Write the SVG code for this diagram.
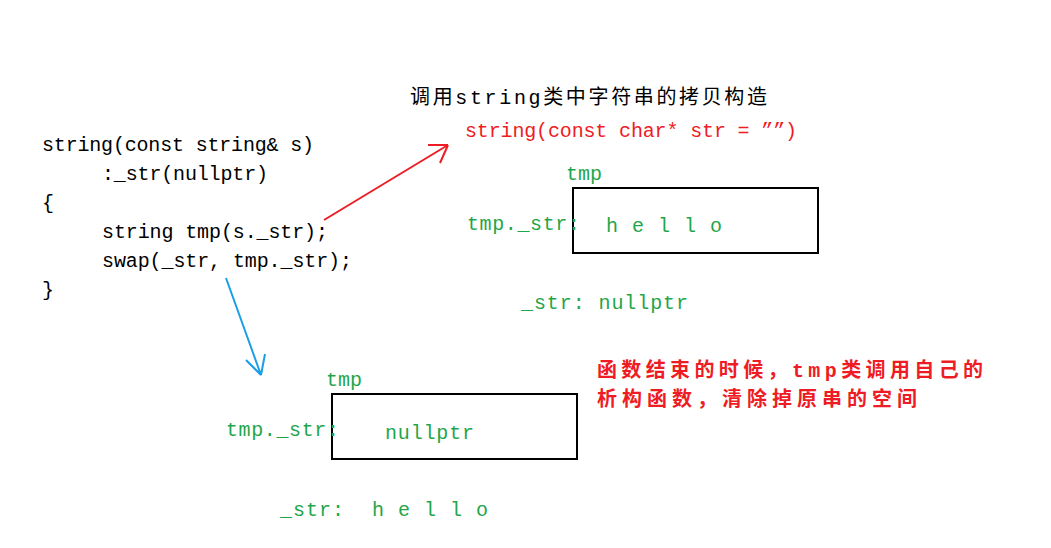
<svg xmlns="http://www.w3.org/2000/svg" width="1051" height="548" viewBox="0 0 1051 548">
<style>
text{font-family:"Liberation Mono","Noto Sans CJK SC",monospace;font-size:20px}
.k{fill:#000}.r{fill:#ee1c24}.g{fill:#1fa64a}
.cj{font-family:"Noto Sans CJK SC","Liberation Sans",sans-serif;font-size:24px}
.box{fill:none;stroke:#000;stroke-width:2}
</style>
<rect width="1051" height="548" fill="#fff"/>
<g id="code" class="k">
<text x="42" y="151" textLength="272">string(const string&amp; s)</text>
<text x="102" y="180" textLength="166">:_str(nullptr)</text>
<text x="42" y="209">{</text>
<text x="102" y="238" textLength="226">string tmp(s._str);</text>
<text x="102" y="267" textLength="250">swap(_str, tmp._str);</text>
<text x="42" y="296">}</text>
</g>
<g id="title"><text class="k" x="410" y="104" font-size="22" textLength="357">调用string类中字符串的拷贝构造</text></g>
<g id="ctor"><text class="r" x="465" y="137" textLength="332">string(const char* str = ””)</text></g>
<g id="tmp1">
<text class="g" x="566" y="180">tmp</text>
<rect class="box" x="573" y="188" width="245" height="65"/>
<text class="g" x="467" y="230" textLength="113">tmp._str:</text>
<text class="g" x="606" y="232" textLength="116">h e l l o</text>
</g>
<g id="str1"><text class="g" x="521" y="309" textLength="167">_str: nullptr</text></g>
<g id="note" class="cj">
<text class="r" x="597" y="377" font-weight="bold" textLength="386">函数结束的时候，tmp类调用自己的</text>
<text class="r" x="597" y="406" font-weight="bold" textLength="320">析构函数，清除掉原串的空间</text>
</g>
<g id="tmp2">
<text class="g" x="326" y="386">tmp</text>
<rect class="box" x="332" y="394" width="245" height="65"/>
<text class="g" x="226" y="436" textLength="113">tmp._str:</text>
<text class="g" x="385" y="439" textLength="89">nullptr</text>
</g>
<g id="str2">
<text class="g" x="280" y="516" textLength="64">_str:</text>
<text class="g" x="372" y="516" textLength="116">h e l l o</text>
</g>
<g id="connectors" fill="none" stroke-width="2">
<path d="M324 220 L448 145 M448 145 L428 145 M448 145 L440 163" stroke="#ee1c24"/>
<path d="M226 278 L261 375 M261 375 L246 360 M261 375 L265 354" stroke="#1a9ee5"/>
</g>
</svg>
